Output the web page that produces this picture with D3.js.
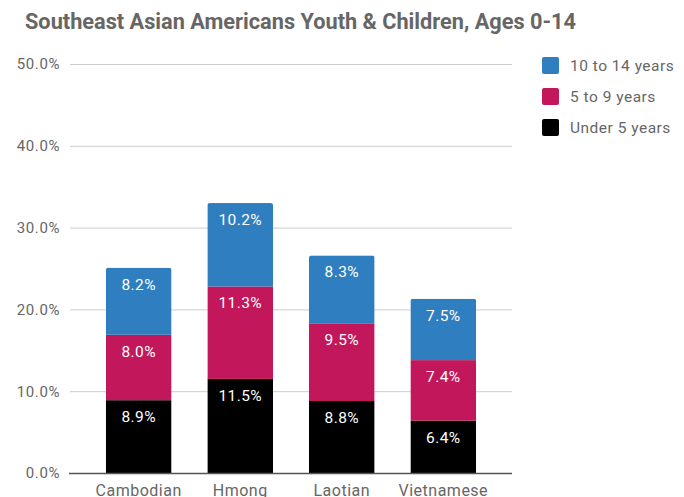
<!DOCTYPE html>
<html>
<head>
<meta charset="utf-8">
<script src="https://cdn.jsdelivr.net/npm/d3@7"></script>
<style>
  html, body { margin: 0; padding: 0; background: #fff; }
  svg { display: block; font-family: Roboto, "Noto Sans", sans-serif; }
</style>
</head>
<body>
<svg id="chart" width="684" height="497"></svg>
<script>
const categories = ["Cambodian", "Hmong", "Laotian", "Vietnamese"];
const seriesNames = ["Under 5 years", "5 to 9 years", "10 to 14 years"];
const under5 = [8.9, 11.5, 8.8, 6.4];
const age5to9 = [8.0, 11.3, 9.5, 7.4];
const age10to14 = [8.2, 10.2, 8.3, 7.5];
const yTicks = [0, 10, 20, 30, 40, 50];
const colors = ["#000000", "#c2185b", "#2f7ec0"];
const legendOrder = ["10 to 14 years", "5 to 9 years", "Under 5 years"];

const seriesValues = [under5, age5to9, age10to14];
const rows = categories.map((c, i) => {
  const r = { category: c };
  seriesNames.forEach((s, j) => r[s] = seriesValues[j][i]);
  return r;
});
const stack = d3.stack().keys(seriesNames)(rows);

const svg = d3.select("#chart");
const plotLeft = 70, plotRight = 512, plotTop = 64, plotBottom = 473;

const x = d3.scaleBand().domain(categories).range([plotLeft, plotRight]).padding(0.353);
const y = d3.scaleLinear().domain([0, 50]).range([plotBottom, plotTop]);
const color = d3.scaleOrdinal().domain(seriesNames).range(colors);

// Title
svg.append("text")
  .attr("x", 25).attr("y", 29)
  .attr("font-size", 22).attr("font-weight", "bold")
  .attr("fill", "#666")
  .attr("textLength", 551).attr("lengthAdjust", "spacingAndGlyphs")
  .text("Southeast Asian Americans Youth & Children, Ages 0-14");

// Gridlines
const yAxis = d3.axisLeft(y).tickValues(yTicks).tickFormat(d => d.toFixed(1) + "%").tickSize(-(plotRight - plotLeft)).tickPadding(10);
const gy = svg.append("g").attr("transform", `translate(${plotLeft},0)`).call(yAxis);
gy.select(".domain").remove();
gy.selectAll(".tick line").attr("stroke", "#cccccc").attr("stroke-width", 1);
gy.selectAll(".tick text").attr("fill", "#666").attr("font-size", 15).attr("letter-spacing", 0.6).attr("font-family", "Roboto, sans-serif");

// Bars
const clipDefs = svg.append("defs");
categories.forEach((c, i) => {
  const total = stack[stack.length - 1][i][1];
  clipDefs.append("clipPath").attr("id", "clip" + i)
    .append("rect")
    .attr("x", x(c)).attr("y", y(total))
    .attr("width", x.bandwidth()).attr("height", y(0) - y(total) + 4)
    .attr("rx", 2.5).attr("ry", 2.5);
});

const layers = svg.append("g").selectAll("g").data(stack).join("g")
  .attr("fill", d => color(d.key));

layers.selectAll("rect").data(d => d).join("rect")
  .attr("x", d => x(d.data.category))
  .attr("y", d => y(d[1]))
  .attr("width", x.bandwidth())
  .attr("height", d => y(d[0]) - y(d[1]))
  .attr("clip-path", (d, i) => `url(#clip${i})`);

// Value labels
const labels = svg.append("g");
stack.forEach(layer => {
  layer.forEach(d => {
    labels.append("text")
      .attr("x", x(d.data.category) + x.bandwidth() / 2)
      .attr("y", y(d[1]) + 22)
      .attr("text-anchor", "middle")
      .attr("font-size", 15.5)
      .attr("letter-spacing", 0.4)
      .attr("fill", "#fff")
      .text((d[1] - d[0]).toFixed(1) + "%");
  });
});

// Baseline
svg.append("line")
  .attr("x1", plotLeft - 1).attr("x2", plotRight)
  .attr("y1", y(0) + 0.5).attr("y2", y(0) + 0.5)
  .attr("stroke", "#555").attr("stroke-width", 1.5);

// X axis labels
const xAxis = d3.axisBottom(x).tickSize(0).tickPadding(6);
const gx = svg.append("g").attr("transform", `translate(0,${plotBottom})`).call(xAxis);
gx.select(".domain").remove();
gx.selectAll(".tick text").attr("fill", "#666").attr("font-size", 16).attr("letter-spacing", 0.5)
  .attr("font-family", "Roboto, sans-serif").attr("dy", "1.05em");

// Legend
const legend = svg.append("g");
legendOrder.forEach((name, i) => {
  const ly = 65 + i * 31;
  legend.append("rect")
    .attr("x", 542).attr("y", ly - 8)
    .attr("width", 17).attr("height", 17)
    .attr("rx", 2).attr("fill", color(name));
  legend.append("text")
    .attr("x", 570).attr("y", ly + 6)
    .attr("font-size", 15.5).attr("fill", "#666")
    .attr("letter-spacing", 0.5)
    .text(name);
});
</script>
</body>
</html>
